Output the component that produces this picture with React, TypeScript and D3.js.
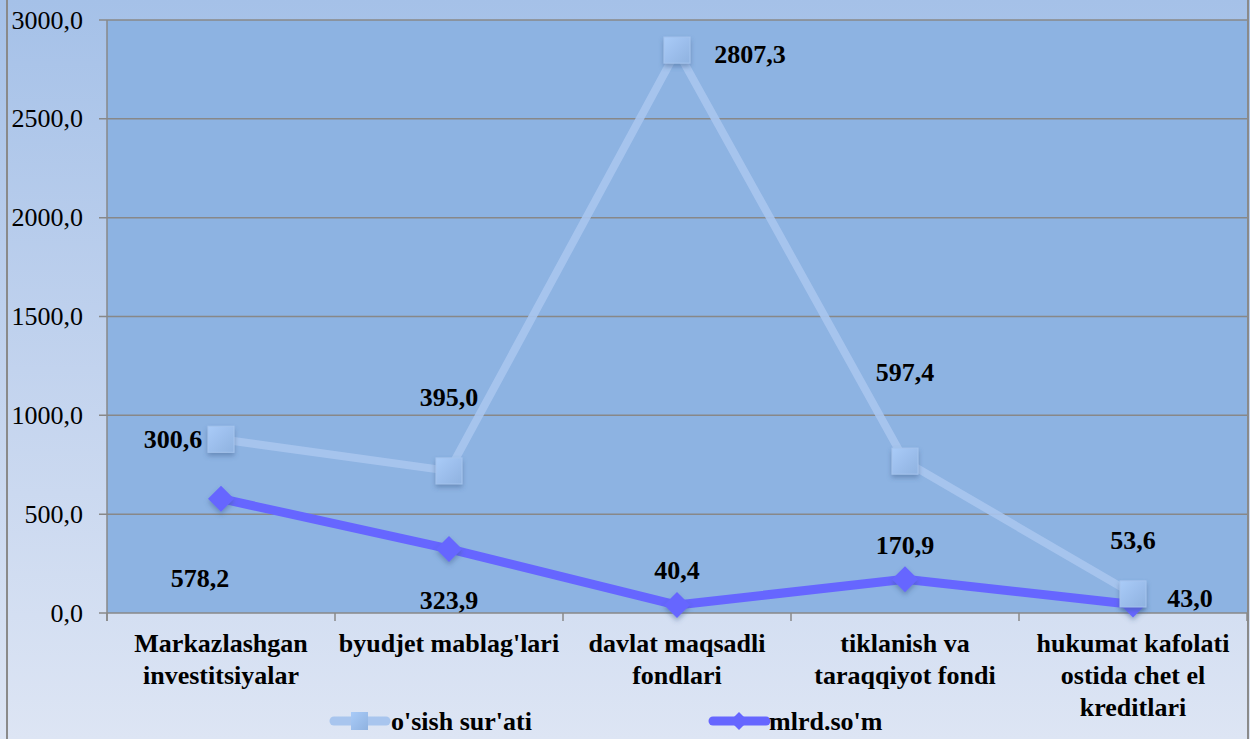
import React from "react";
import * as d3 from "d3";

const categories: string[][] = [
  ["Markazlashgan", "investitsiyalar"],
  ["byudjet mablag'lari"],
  ["davlat maqsadli", "fondlari"],
  ["tiklanish va", "taraqqiyot fondi"],
  ["hukumat kafolati", "ostida chet el", "kreditlari"],
];
const mlrdValues = [578.2, 323.9, 40.4, 170.9, 43.0];
const osishValues = [300.6, 395.0, 2807.3, 597.4, 53.6];
const yTicks = [0, 500, 1000, 1500, 2000, 2500, 3000];
const seriesNames = ["o'sish sur'ati", "mlrd.so'm"];

// label offsets (styling)
const osishLabelOffsets = [
  [-48, 0],
  [0, -74],
  [73, 4],
  [0, -89],
  [0, -54],
];
const mlrdLabelOffsets = [
  [-21, 79],
  [0, 51],
  [0, -35],
  [0, -34],
  [57, -7],
];

const W = 1250;
const H = 739;
const M = { left: 107, right: 1247, top: 20, bottom: 613 };
const FONT = "Liberation Serif";

export default function App() {
  const x = d3
    .scaleBand<number>()
    .domain(d3.range(categories.length))
    .range([M.left, M.right]);
  const y = d3.scaleLinear().domain([0, 3000]).range([M.bottom, M.top]);
  const stacked = osishValues.map((v, i) => v + mlrdValues[i]);
  const cx = (i: number) => (x(i) as number) + x.bandwidth() / 2;
  const line = d3
    .line<number>()
    .x((_, i) => cx(i))
    .y((d) => y(d));
  const fmt = (v: number) => v.toFixed(1).replace(".", ",");
  const sq = 26;
  const diamond = (px: number, py: number, r: number) =>
    `M${px},${py - r}L${px + r},${py}L${px},${py + r}L${px - r},${py}Z`;
  const ts = { fontFamily: FONT };

  return (
    <svg width={W} height={H} style={{ position: "absolute", left: 0, top: 0 }}>
      <defs>
        <linearGradient id="bg" x1="0" y1="0" x2="0" y2="1">
          <stop offset="0" stopColor="#a5c1e8" />
          <stop offset="0.5" stopColor="#c2d3ee" />
          <stop offset="1" stopColor="#dde5f4" />
        </linearGradient>
        <linearGradient id="sq" x1="0" y1="0" x2="1" y2="1">
          <stop offset="0" stopColor="#a9cbf8" />
          <stop offset="1" stopColor="#8fb2e0" />
        </linearGradient>
        <filter id="sh" x="-50%" y="-50%" width="200%" height="200%">
          <feDropShadow dx="0" dy="3" stdDeviation="2.5" floodColor="#3a5a8a" floodOpacity="0.45" />
        </filter>
      </defs>
      <rect x={0} y={0} width={W} height={H} fill="url(#bg)" />
      <line x1={7} x2={7} y1={0} y2={H} stroke="#8a8a8a" strokeWidth={2} />
      <line x1={1248} x2={1248} y1={0} y2={H} stroke="#8a8a8a" strokeWidth={2} />
      <rect
        x={M.left}
        y={M.top}
        width={M.right - M.left}
        height={M.bottom - M.top}
        fill="#8db3e2"
      />
      {yTicks.map((t) => (
        <g key={t}>
          <line
            x1={M.left - 8}
            x2={M.right}
            y1={y(t)}
            y2={y(t)}
            stroke="#888"
            strokeWidth={1.5}
          />
          <text
            x={83}
            y={y(t)}
            dy="0.33em"
            textAnchor="end"
            fontSize={26}
            fill="#000"
            style={ts}
          >
            {fmt(t)}
          </text>
        </g>
      ))}
      <line x1={M.left} x2={M.left} y1={M.top} y2={M.bottom + 8} stroke="#888" strokeWidth={1.5} />
      {d3.range(categories.length + 1).map((i) => {
        const xx = i < categories.length ? (x(i) as number) : M.right;
        return (
          <line key={i} x1={xx} x2={xx} y1={M.bottom} y2={M.bottom + 8} stroke="#888" strokeWidth={1.5} />
        );
      })}
      {categories.map((lines, i) => (
        <text key={i} textAnchor="middle" fontSize={26} fontWeight="bold" fill="#000" style={ts}>
          {lines.map((l, j) => (
            <tspan key={j} x={cx(i)} y={652 + j * 32}>
              {l}
            </tspan>
          ))}
        </text>
      ))}
      {/* o'sish line */}
      <path
        d={line(stacked) || ""}
        fill="none"
        stroke="#a8c5ee"
        strokeWidth={8}
        strokeLinejoin="round"
        opacity={0.9}
      />
      {/* mlrd line */}
      <path
        d={line(mlrdValues) || ""}
        fill="none"
        stroke="#6666ff"
        strokeWidth={9}
        strokeLinejoin="round"
      />
      {mlrdValues.map((v, i) => (
        <path key={i} d={diamond(cx(i), y(v), 13)} fill="#6666ff" filter="url(#sh)" />
      ))}
      {stacked.map((v, i) => (
        <rect
          key={i}
          x={cx(i) - sq / 2}
          y={y(v) - sq / 2}
          width={sq}
          height={sq}
          fill="url(#sq)"
          stroke="#a5c4ee"
          strokeWidth={1}
          filter="url(#sh)"
        />
      ))}
      {osishValues.map((v, i) => (
        <text
          key={i}
          x={cx(i) + osishLabelOffsets[i][0]}
          y={y(stacked[i]) + osishLabelOffsets[i][1]}
          dy="0.35em"
          textAnchor="middle"
          fontSize={26}
          fontWeight="bold"
          fill="#000"
          style={ts}
        >
          {fmt(v)}
        </text>
      ))}
      {mlrdValues.map((v, i) => (
        <text
          key={i}
          x={cx(i) + mlrdLabelOffsets[i][0]}
          y={y(v) + mlrdLabelOffsets[i][1]}
          dy="0.35em"
          textAnchor="middle"
          fontSize={26}
          fontWeight="bold"
          fill="#000"
          style={ts}
        >
          {fmt(v)}
        </text>
      ))}
      {/* legend */}
      <g>
        <line x1={334} x2={386} y1={721} y2={721} stroke="#a8c5ee" strokeWidth={9} strokeLinecap="round" />
        <rect x={351} y={712} width={17} height={18} fill="url(#sq)" />
        <text x={391} y={730} fontSize={26} fontWeight="bold" fill="#000" style={ts}>
          {seriesNames[0]}
        </text>
        <line x1={713} x2={766} y1={721} y2={721} stroke="#6666ff" strokeWidth={9} strokeLinecap="round" />
        <path d={diamond(739, 721, 9)} fill="#6666ff" />
        <text x={769} y={730} fontSize={26} fontWeight="bold" fill="#000" style={ts}>
          {seriesNames[1]}
        </text>
      </g>
    </svg>
  );
}
